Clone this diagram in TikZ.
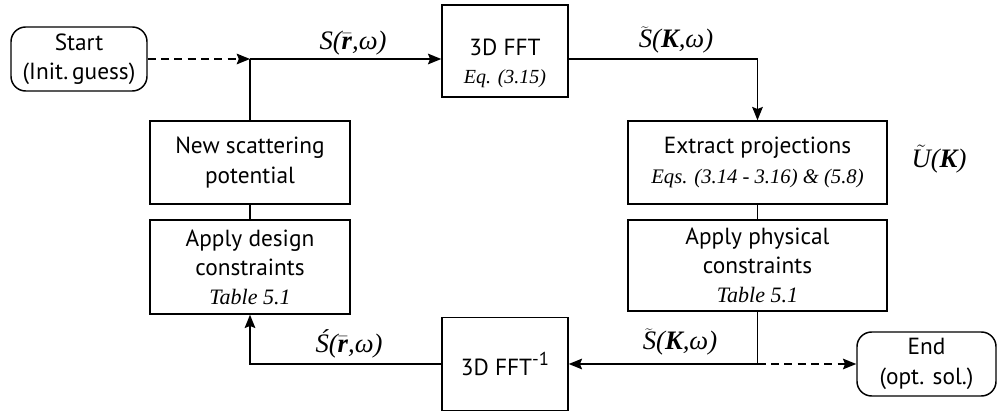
\RequirePackage{fix-cm}
\documentclass[tikz,border=0pt]{standalone}
\usepackage{fontspec}
\setmainfont{PT Sans}
\newfontfamily\tms{Liberation Serif}
\usetikzlibrary{arrows.meta}

\newcommand\ital[1]{{\tms\itshape #1}}
\newcommand\labfont{\fontsize{20}{24}\selectfont\tms\itshape}
\newcommand\rvec{$\bar{\mbox{\tms\bfseries r}}$}
\newcommand\Kvec{{\bfseries K}}

\begin{document}
\begin{tikzpicture}[x=0.75pt,y=-0.75pt,
  line width=1.1pt,
  box/.style={draw, line width=1.1pt, align=center, inner sep=0pt,
    font=\fontsize{17.5}{22}\selectfont},
  term/.style={box, rounded corners=11pt},
  txt/.style={align=center, inner sep=0pt, font=\fontsize{17.5}{21}\selectfont},
  eqn/.style={inner sep=0pt, anchor=base, font=\labfont},
  arr/.style={-{Stealth[length=10pt,width=8pt,inset=1.6pt]}},
  dashline/.style={dash pattern=on 6pt off 4pt}]
\useasboundingbox (0,0) rectangle (1000,416);

% terminals
\node[term, minimum width=102pt, minimum height=48pt] (start) at (79,59)
  {Start\\(Init.\,guess)};
\node[term, minimum width=104.25pt, minimum height=48pt] (end) at (926.5,364)
  {End\\(opt. sol.)};

% transform boxes
\node[box, minimum width=94.5pt, minimum height=69pt] (fft) at (505,51) {};
\node[txt] (fftt) at (505,63) {3D FFT\\{\fontsize{15}{21}\selectfont\ital{Eq. (3.15)}}};
\node[box, minimum width=94.5pt, minimum height=69.75pt] (ifft) at (505,364)
  {3D FFT\raisebox{8pt}{\fontsize{14}{14}\selectfont -1}};

% left column
\node[box, minimum width=150pt, minimum height=62.25pt] (newpot) at (250,162.5)
  {New scattering\\potential};
\node[box, minimum width=150pt, minimum height=70.5pt,
  font=\fontsize{17.5}{21.75}\selectfont] (design) at (250,267)
  {Apply design\\constraints\\{\fontsize{16.5}{21.75}\selectfont\ital{Table 5.1}}};

% right column
\node[box, minimum width=194.25pt, minimum height=62.25pt] (extract) at (757.5,162.5)
  {Extract projections\\{\fontsize{15.5}{18}\selectfont\ital{Eqs. (3.14 - 3.16) \& (5.8)}}};
\node[box, minimum width=194.25pt, minimum height=68.25pt,
  font=\fontsize{17.5}{21.5}\selectfont] (physical) at (757.5,265.5)
  {Apply physical\\constraints\\{\fontsize{16.5}{21.5}\selectfont\ital{Table 5.1}}};

% signal labels
\node[eqn] (lS) at (353,50) {S(\rvec,ω)};
\node[eqn] (lSt) at (676,48) {$\widetilde{\mbox{\labfont S}}$(\Kvec,ω)};
\node[eqn] (lU) at (939,168) {$\tilde{\mbox{\labfont U}}$(\Kvec)};
\node[eqn] (lSp) at (349,353) {Ś(\rvec,ω)};
\node[eqn] (lSb) at (680,350) {$\widetilde{\mbox{\labfont S}}$(\Kvec,ω)};

% junctions
\coordinate (j1) at (250,59);
\coordinate (j2) at (757.5,364);

% connectors
\draw[arr, dashline] (start.east) -- (j1);
\draw[arr] (j1) -- (j1 -| fft.west);
\draw (j1) -- (newpot.north);
\draw (newpot) -- (design);
\draw[arr] (fft.east |- j1) -| (extract.north);
\draw (extract) -- (physical);
\draw[arr] (physical.south) |- (ifft.east);
\draw[arr, dashline] (j2) -- (end.west);
\draw[arr] (ifft.west) -| (design.south);
\end{tikzpicture}
\end{document}
